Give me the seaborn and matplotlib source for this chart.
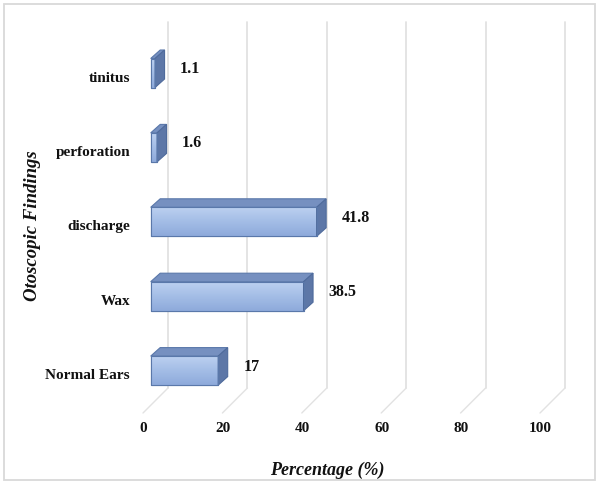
import numpy as np
import pandas as pd
import matplotlib
matplotlib.use("Agg")
import matplotlib.pyplot as plt
from matplotlib.patches import Polygon, Rectangle
from matplotlib.colors import LinearSegmentedColormap
import seaborn as sns

# ---- data ----
categories = ["tinitus", "perforation", "discharge", "Wax", "Normal Ears"]
values = [1.1, 1.6, 41.8, 38.5, 17]
value_labels = ["1.1", "1.6", "41.8", "38.5", "17"]
xticks = [0, 20, 40, 60, 80, 100]
xtick_labels = ["0", "20", "40", "60", "80", "100"]
x_title = "Percentage (%)"
y_title = "Otoscopic Findings"

sns.set_theme(style="white")
plt.rcParams["font.family"] = ["Liberation Serif", "DejaVu Serif"]

W, H = 600, 483
fig = plt.figure(figsize=(W / 100, H / 100), dpi=100)
ax = fig.add_axes([0, 0, 1, 1])

# pixel geometry of the 3D-like Excel chart
X0_PX, PX_PER_UNIT = 150.7, 3.97
Y0_PX, PX_PER_CAT = 73.0, 74.4
def ux(px):  # pixel length -> x data units
    return px / PX_PER_UNIT
def uy(px):  # pixel length -> y data units
    return px / PX_PER_CAT

df = pd.DataFrame({"cat": categories, "val": values})
sns.barplot(data=df, x="val", y="cat", order=categories, orient="h",
            width=29 / PX_PER_CAT, color="#9db8e3", edgecolor="#5a78aa",
            linewidth=0.8, ax=ax, zorder=3)

xlim = (-ux(X0_PX), ux(W - X0_PX))
ylim = (uy(H - Y0_PX), -uy(Y0_PX))

# back wall gridlines + floor diagonals
grid_c = "#e2e2e2"
floor_front = uy(413 - Y0_PX)
floor_back = uy(388 - Y0_PX)
wall_top = uy(22 - Y0_PX)
for t in xticks:
    xf = t + ux(-7.7)
    xb = t + ux(17.3)
    ax.plot([xf, xb], [floor_front, floor_back], color=grid_c, lw=1.0, zorder=0)
    ax.plot([xb, xb], [floor_back, wall_top], color=grid_c, lw=1.3, zorder=0)

# 3D faces and gradient fronts
cmap = LinearSegmentedColormap.from_list("g", ["#bcd0f0", "#a3bde6", "#8eaadb"])
grad = np.linspace(0, 1, 64).reshape(-1, 1)
ddx, ddy = ux(9.5), uy(8.5)
for p in list(ax.patches):
    x, y, w, h = p.get_x(), p.get_y(), p.get_width(), p.get_height()
    im = ax.imshow(grad, extent=[x, x + w, y + h, y], aspect="auto",
                   cmap=cmap, zorder=3.1, interpolation="bilinear")
    im.set_clip_path(p)
    top = Polygon([(x, y), (x + w, y), (x + w + ddx, y - ddy), (x + ddx, y - ddy)],
                  closed=True, facecolor="#7690c0", edgecolor="#5a78aa",
                  lw=0.8, zorder=3.2)
    side = Polygon([(x + w, y), (x + w, y + h), (x + w + ddx, y + h - ddy),
                    (x + w + ddx, y - ddy)], closed=True, facecolor="#5d77a7",
                   edgecolor="#4f6b9c", lw=0.8, zorder=3.2)
    ax.add_patch(top)
    ax.add_patch(side)
    ax.add_patch(Rectangle((x, y), w, h, fill=False, edgecolor="#5a78aa",
                           lw=0.8, zorder=3.3))

# value labels
for i, (v, lab) in enumerate(zip(values, value_labels)):
    ax.text(v + ux(25), i - uy(4), lab, ha="left", va="center",
            fontsize=11.5, fontweight="bold", color="#111111", zorder=5)

# category labels
for i, c in enumerate(categories):
    ax.text(-ux(20.7), i + uy(5), c, ha="right", va="center",
            fontsize=11, fontweight="bold", color="#111111")

# x tick labels
for t, lab in zip(xticks, xtick_labels):
    ax.text(t + ux(-7.2), uy(428 - Y0_PX), lab, ha="center", va="center",
            fontsize=11, fontweight="bold", color="#111111")

# axis titles
ax.text(ux(327 - X0_PX), uy(470 - Y0_PX), x_title, ha="center", va="center",
        fontsize=13, fontweight="bold", fontstyle="italic", color="#111111")
ax.text(ux(33 - X0_PX), uy(226 - Y0_PX), y_title, ha="center", va="center",
        rotation=90, fontsize=13.5, fontweight="bold", fontstyle="italic",
        color="#111111")

ax.set_xlim(*xlim)
ax.set_ylim(*ylim)
ax.axis("off")

fig.patches.append(Rectangle((4 / W, 3 / H), 591 / W, 476 / H,
                             transform=fig.transFigure, fill=False,
                             edgecolor="#d9d9d9", lw=1.3))

fig.savefig("out.png", dpi=100, facecolor="white")
